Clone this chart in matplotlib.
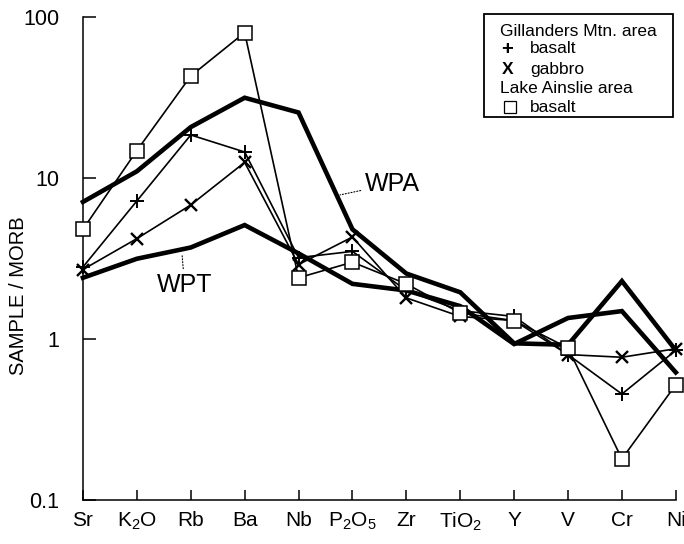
import numpy as np
import matplotlib
matplotlib.use("Agg")
import matplotlib.pyplot as plt
from matplotlib.patches import Rectangle

plt.rcParams['font.family'] = ['Liberation Sans', 'DejaVu Sans']
plt.rcParams['mathtext.default'] = 'regular'

# elements on the x axis
elements = ['Sr', 'K$_2$O', 'Rb', 'Ba', 'Nb', 'P$_2$O$_5$', 'Zr', 'TiO$_2$', 'Y', 'V', 'Cr', 'Ni']

# reference patterns (thick lines)
wpa = [7.1, 11.0, 20.7, 31.5, 25.5, 4.8, 2.55, 1.95, 0.94, 0.92, 2.29, 0.85]
wpt = [2.4, 3.15, 3.7, 5.1, 3.4, 2.2, 2.0, 1.6, 0.93, 1.35, 1.49, 0.62]

# Gillanders Mtn. area
gill_basalt = [2.8, 7.2, 18.5, 14.5, 3.2, 3.5, 2.0, 1.5, 1.38, 0.8, 0.455, 0.85]
gill_gabbro = [2.7, 4.2, 6.8, 12.5, 2.9, 4.3, 1.8, 1.38, 1.3, 0.8, 0.77, 0.87]

# Lake Ainslie area
lake_basalt = [4.8, 14.8, 43, 80, 2.4, 3.0, 2.2, 1.45, 1.3, 0.88, 0.18, 0.52]

x = np.arange(len(elements))

fig = plt.figure(figsize=(6.84, 5.44), dpi=100)
ax = fig.add_axes([0.1213, 0.0809, 0.8667, 0.8879])

# thick reference lines
ax.plot(x, wpa, color='black', lw=3.3, solid_joinstyle='miter', zorder=3, clip_on=False)
ax.plot(x, wpt, color='black', lw=3.3, solid_joinstyle='miter', zorder=3, clip_on=False)

# samples
ax.plot(x, gill_basalt, color='black', lw=1.2, marker='+', ms=10, mew=1.4, zorder=4, clip_on=False)
ax.plot(x, gill_gabbro, color='black', lw=1.2, marker='x', ms=9, mew=1.7, zorder=4, clip_on=False)
ax.plot(x, lake_basalt, color='black', lw=1.2, marker='s', ms=10.5, mfc='white', mec='black',
        mew=1.1, zorder=5, clip_on=False)

ax.set_yscale('log')
ax.set_ylim(0.1, 100)
ax.set_xlim(0, 11)
ax.set_yticks([0.1, 1, 10, 100])
ax.set_yticklabels(['0.1', '1', '10', '100'])
ax.yaxis.set_minor_locator(matplotlib.ticker.NullLocator())
ax.set_xticks(x)
ax.set_xticklabels(elements)

ax.spines['top'].set_visible(False)
ax.spines['right'].set_visible(False)
for s in ['left', 'bottom']:
    ax.spines[s].set_linewidth(1.1)

ax.tick_params(axis='y', direction='in', length=9, width=1.1, labelsize=15.5, pad=17)
ax.tick_params(axis='x', direction='in', length=7, width=1.1, labelsize=15, pad=8)
ax.set_ylabel('SAMPLE / MORB', fontsize=14.5)
ax.yaxis.set_label_coords(-0.093, 0.424)

# labels for the reference patterns
ax.annotate('WPA', xy=(4.77, 7.85), xytext=(5.23, 9.2), fontsize=18, va='center', ha='left',
            arrowprops=dict(arrowstyle='-', ls=':', lw=0.8, color='black', shrinkA=1, shrinkB=0))
ax.annotate('WPT', xy=(1.84, 3.3), xytext=(1.37, 2.17), fontsize=18, va='center', ha='left',
            arrowprops=dict(arrowstyle='-', ls=':', lw=0.8, color='black', shrinkA=1, shrinkB=0))

# legend box
tr = ax.transAxes
ax.add_patch(Rectangle((0.676, 0.793), 0.319, 0.213, transform=tr, fill=False, lw=1.3,
                       clip_on=False, zorder=6))
fs = 12.5
ax.text(0.703, 0.969, 'Gillanders Mtn. area', transform=tr, fontsize=fs, va='center')
ax.text(0.716, 0.933, '+', transform=tr, fontsize=fs + 2, va='center', ha='center', weight='bold')
ax.text(0.754, 0.934, 'basalt', transform=tr, fontsize=fs, va='center')
ax.text(0.716, 0.892, 'X', transform=tr, fontsize=fs, va='center', ha='center', weight='bold')
ax.text(0.754, 0.892, 'gabbro', transform=tr, fontsize=fs, va='center')
ax.text(0.703, 0.852, 'Lake Ainslie area', transform=tr, fontsize=fs, va='center')
ax.plot([0.720], [0.813], transform=tr, marker='s', ms=9, mfc='white', mec='black', mew=0.9,
        clip_on=False, zorder=7)
ax.text(0.754, 0.813, 'basalt', transform=tr, fontsize=fs, va='center')

fig.savefig('out.png', dpi=100)
